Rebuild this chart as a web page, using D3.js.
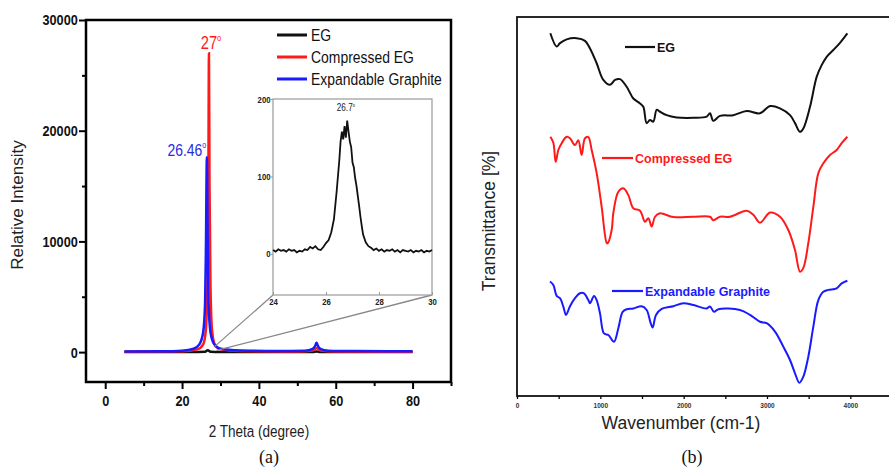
<!DOCTYPE html>
<html>
<head>
<meta charset="utf-8">
<script src="https://cdn.jsdelivr.net/npm/d3@7"></script>
<style>
  body { margin: 0; background: #fff; }
  svg { display: block; }
  .sans { font-family: "Liberation Sans", Arial, sans-serif; }
  .serif { font-family: "Liberation Serif", "Times New Roman", serif; }
</style>
</head>
<body>
<div id="chart"></div>
<script>
// ---- (a) XRD data: [2theta, intensity] ----
const xrdEG = [[5,10],[20,12],[24,15],[26,30],[26.7,170],[27.4,30],[30,12],[50,10],[54,12],[55,60],[56,12],[80,10]];
const xrdCompressed = [[5,40],[20,70],[24,250],[25.5,700],[26.2,2000],[26.6,6000],[26.85,15000],[27,27000],[27.15,15000],[27.4,6000],[27.8,2000],[28.5,700],[30,250],[35,100],[50,60],[54,150],[55,350],[56,150],[60,60],[80,40]];
const xrdExpandable = [[5,60],[15,70],[20,120],[23,300],[24.5,700],[25.5,1800],[26,4500],[26.2,9000],[26.46,17600],[26.7,9000],[26.9,4500],[27.4,1800],[28.4,700],[30,300],[35,150],[45,100],[52,130],[54,300],[54.7,600],[55,850],[55.3,600],[56,300],[58,130],[65,90],[80,70]];
// inset: EG around the (002) reflection
const insetEG = [[24.0,5],[24.1,3],[24.2,6],[24.3,4],[24.4,5],[24.5,3],[24.6,6],[24.7,4],[24.8,5],[24.9,2],[25.0,4],[25.1,3],[25.2,6],[25.3,5],[25.4,9],[25.5,7],[25.6,10],[25.7,6],[25.8,5],[25.9,9],[26.0,14],[26.1,18],[26.2,28],[26.3,45],[26.4,80],[26.5,120],[26.55,145],[26.6,158],[26.65,148],[26.7,165],[26.75,150],[26.8,172],[26.85,158],[26.9,145],[26.95,138],[27.0,118],[27.05,112],[27.1,98],[27.15,88],[27.2,75],[27.25,62],[27.3,48],[27.35,36],[27.4,25],[27.5,15],[27.6,10],[27.7,8],[27.8,5],[27.9,7],[28.0,4],[28.1,6],[28.2,3],[28.3,5],[28.4,4],[28.5,6],[28.6,3],[28.7,5],[28.8,2],[28.9,5],[29.0,4],[29.1,3],[29.2,5],[29.3,2],[29.4,4],[29.5,3],[29.6,5],[29.7,2],[29.8,4],[29.9,3],[30.0,5]];

// ---- (b) FTIR data: [wavenumber, transmittance (offset, a.u.)] ----
const ftirEG = [[400,95.7],[476,92.2],[516,93.1],[596,94.1],[716,94.4],[816,93.7],[876,91.7],[956,87.8],[1036,83.4],[1116,82.1],[1176,83.4],[1236,83.6],[1316,81.6],[1396,78.5],[1476,77.2],[1516,76.3],[1556,72.0],[1596,72.8],[1636,72.4],[1676,75.5],[1716,75.0],[1796,74.1],[1916,73.5],[2116,73.4],[2276,73.7],[2316,74.6],[2356,72.6],[2436,73.9],[2596,74.1],[2756,75.2],[2916,74.6],[3036,76.5],[3156,75.9],[3276,74.1],[3336,72.0],[3396,69.7],[3436,70.6],[3516,76.3],[3596,84.2],[3656,87.3],[3716,89.5],[3796,91.3],[3876,93.2],[3964,95.7]];
const ftirCompressed = [[400,68.4],[436,66.8],[464,61.8],[496,64.9],[536,66.7],[596,68.4],[636,68.0],[696,66.2],[736,67.5],[776,63.6],[816,68.0],[856,68.3],[896,64.9],[956,58.8],[1016,49.9],[1076,40.4],[1088,40.3],[1136,43.8],[1156,48.3],[1216,53.9],[1276,54.8],[1336,53.0],[1396,49.5],[1476,48.9],[1536,46.0],[1576,46.9],[1616,44.7],[1656,47.3],[1716,48.2],[1876,47.2],[2116,47.3],[2316,47.3],[2356,46.4],[2436,47.3],[2556,47.3],[2756,48.9],[2836,47.8],[2916,45.7],[3036,48.4],[3156,47.3],[3256,43.8],[3336,38.5],[3396,32.8],[3436,33.8],[3496,40.4],[3556,49.9],[3616,58.8],[3676,61.4],[3756,63.6],[3836,64.9],[3896,66.7],[3964,68.4]];
const ftirExpandable = [[396,30.2],[436,29.3],[476,26.4],[516,25.8],[556,23.6],[588,21.4],[636,23.7],[696,25.8],[756,27.1],[804,27.1],[856,25.3],[876,24.5],[924,26.4],[956,25.3],[996,21.8],[1044,16.5],[1096,16.1],[1164,14.3],[1216,17.9],[1268,22.2],[1316,22.9],[1396,23.1],[1496,23.7],[1556,22.7],[1604,19.2],[1628,18.1],[1668,21.4],[1736,23.0],[1876,23.7],[1996,24.5],[2116,24.0],[2276,23.1],[2316,23.6],[2364,22.2],[2416,22.9],[2676,22.7],[2796,21.4],[2916,19.6],[2996,19.2],[3096,17.0],[3196,13.0],[3276,9.5],[3336,6.0],[3388,3.5],[3436,5.1],[3496,10.4],[3556,18.3],[3616,25.3],[3676,27.5],[3736,28.0],[3836,28.4],[3896,29.7],[3964,30.4]];

const seriesNames = ['EG', 'Compressed EG', 'Expandable Graphite'];
const seriesColors = ['#111111', '#ff1a1a', '#1a1aff'];
const xrdTicksX = [0, 20, 40, 60, 80];
const xrdMinorX = [10, 30, 50, 70, 90];
const xrdTicksY = [0, 10000, 20000, 30000];
const xrdMinorY = [5000, 15000, 25000];
const insetTicksX = [24, 26, 28, 30];
const insetTicksY = [0, 100, 200];
const ftirTicksX = [0, 1000, 2000, 3000, 4000];
const ftirMinorX = [500, 1500, 2500, 3500];

const NARROW = 0.82; // the original uses a condensed face; squeeze a regular one
const W = 889, H = 467;
const svg = d3.select('#chart').append('svg').attr('width', W).attr('height', H);
svg.append('rect').attr('width', W).attr('height', H).attr('fill', '#fff');

// condensed text helper: text placed at (x,y), squeezed horizontally
const narrowText = (x, y, size, anchor = 'start') => svg.append('g')
  .attr('transform', `translate(${x},${y}) scale(${NARROW},1)`)
  .append('text').attr('class', 'sans').attr('font-size', size).attr('text-anchor', anchor);

// ================= panel (a) =================
const a = { left: 86, right: 451, top: 20, bottom: 382 };
const xA = d3.scaleLinear().domain([-5, 90]).range([a.left, a.right]);
const yA = d3.scaleLinear().domain([-2700, 30000]).range([a.bottom, a.top]);

const styleAxis = g => {
  g.select('.domain').remove();
  g.selectAll('.tick line').attr('stroke', '#000').attr('stroke-width', 2);
  g.selectAll('.tick text').attr('class', 'sans').attr('font-size', 15.5)
    .attr('font-weight', 'bold').attr('fill', '#111')
    .attr('transform', `scale(${NARROW},1)`);
};

svg.append('g').attr('transform', `translate(0,${a.bottom})`)
  .call(d3.axisBottom(xA).tickValues(xrdMinorX).tickSize(4).tickFormat(''))
  .call(styleAxis);
svg.append('g').attr('transform', `translate(0,${a.bottom})`)
  .call(d3.axisBottom(xA).tickValues(xrdTicksX).tickSize(7).tickPadding(6).tickFormat(d3.format('d')))
  .call(styleAxis);
svg.append('g').attr('transform', `translate(${a.left},0)`)
  .call(d3.axisLeft(yA).tickValues(xrdMinorY).tickSize(4).tickFormat(''))
  .call(styleAxis);
svg.append('g').attr('transform', `translate(${a.left},0)`)
  .call(d3.axisLeft(yA).tickValues(xrdTicksY).tickSize(7).tickPadding(3).tickFormat(d3.format('d')))
  .call(styleAxis);

svg.append('rect').attr('x', a.left).attr('y', a.top)
  .attr('width', a.right - a.left).attr('height', a.bottom - a.top)
  .attr('fill', 'none').attr('stroke', '#000').attr('stroke-width', 2.5);

const lineA = d3.line().x(d => xA(d[0])).y(d => yA(d[1])).curve(d3.curveMonotoneX);
[xrdEG, xrdCompressed, xrdExpandable].forEach((s, i) => {
  svg.append('path').datum(s).attr('d', lineA)
    .attr('fill', 'none').attr('stroke', seriesColors[i]).attr('stroke-width', 2.5);
});

// peak labels
const degLabel = (x, y, txt, color, size) => {
  const t = narrowText(x, y, size, 'middle').attr('fill', color);
  t.append('tspan').text(txt);
  t.append('tspan').attr('dy', -size * 0.45).attr('font-size', size * 0.5).text('o');
};
degLabel(xA(27) + 2, 49, '27', '#ff1a1a', 18);
degLabel(xA(26.46) - 20, 156, '26.46', '#2b2bdd', 17);

// legend (a)
seriesNames.forEach((n, i) => {
  const y = 35 + i * 22;
  svg.append('line').attr('x1', 277).attr('x2', 307).attr('y1', y).attr('y2', y)
    .attr('stroke', seriesColors[i]).attr('stroke-width', 3);
  narrowText(311, y + 6, 17).attr('fill', '#111').text(n);
});

// inset
const ins = { left: 273, right: 432, top: 99, bottom: 295 };
const xI = d3.scaleLinear().domain([24, 30]).range([ins.left, ins.right]);
const yI = d3.scaleLinear().domain([-53, 200]).range([ins.bottom, ins.top]);

// zoom guide lines
svg.append('line').attr('x1', ins.left).attr('y1', ins.bottom)
  .attr('x2', xA(28.3)).attr('y2', yA(450)).attr('stroke', '#888').attr('stroke-width', 1.3);
svg.append('line').attr('x1', ins.right).attr('y1', ins.bottom)
  .attr('x2', xA(29)).attr('y2', yA(150)).attr('stroke', '#888').attr('stroke-width', 1.3);

svg.append('rect').attr('x', ins.left).attr('y', ins.top)
  .attr('width', ins.right - ins.left).attr('height', ins.bottom - ins.top)
  .attr('fill', '#fff').attr('stroke', '#999').attr('stroke-width', 1.2);

const styleInset = g => {
  g.select('.domain').remove();
  g.selectAll('.tick line').attr('stroke', '#999');
  g.selectAll('.tick text').attr('class', 'sans').attr('font-size', 9.5)
    .attr('font-weight', 'bold').attr('fill', '#222')
    .attr('transform', `scale(${NARROW},1)`);
};
svg.append('g').attr('transform', `translate(0,${ins.bottom})`)
  .call(d3.axisBottom(xI).tickValues(insetTicksX).tickSize(-3).tickPadding(3).tickFormat(d3.format('d')))
  .call(styleInset);
svg.append('g').attr('transform', `translate(${ins.left},0)`)
  .call(d3.axisLeft(yI).tickValues(insetTicksY).tickSize(2).tickPadding(1).tickFormat(d3.format('d')))
  .call(styleInset);

const lineI = d3.line().x(d => xI(d[0])).y(d => yI(d[1]));
svg.append('path').datum(insetEG).attr('d', lineI)
  .attr('fill', 'none').attr('stroke', '#111').attr('stroke-width', 1.8);
const t267 = narrowText(xI(26.75), 111, 10, 'middle').attr('fill', '#222');
t267.append('tspan').text('26.7');
t267.append('tspan').attr('dy', -4).attr('font-size', 5).text('o');

narrowText(xA(40), 437, 16.5, 'middle').attr('fill', '#222').text('2 Theta (degree)');
svg.append('text').attr('class', 'sans')
  .attr('transform', `translate(23,${(a.top + a.bottom) / 2 + 4}) rotate(-90)`)
  .attr('text-anchor', 'middle').attr('font-size', 17).attr('fill', '#222').text('Relative Intensity');
svg.append('text').attr('class', 'serif').attr('x', 269).attr('y', 463)
  .attr('text-anchor', 'middle').attr('font-size', 18).attr('fill', '#111').text('(a)');

// ================= panel (b) =================
const b = { left: 517, right: 892, top: 17, bottom: 396 };
const xB = d3.scaleLinear().domain([0, 4500]).range([b.left, b.right]);
const yB = d3.scaleLinear().domain([0, 100]).range([b.bottom, b.top]);

const styleB = g => {
  g.select('.domain').remove();
  g.selectAll('.tick line').attr('stroke', '#000').attr('stroke-width', 1.3);
  g.selectAll('.tick text').attr('class', 'sans').attr('font-size', 6.5)
    .attr('font-weight', 'bold').attr('fill', '#333');
};
svg.append('g').attr('transform', `translate(0,${b.bottom})`)
  .call(d3.axisBottom(xB).tickValues(ftirMinorX).tickSize(3).tickFormat(''))
  .call(styleB);
svg.append('g').attr('transform', `translate(0,${b.bottom})`)
  .call(d3.axisBottom(xB).tickValues(ftirTicksX).tickSize(3).tickPadding(4).tickFormat(d3.format('d')))
  .call(styleB);

svg.append('rect').attr('x', b.left).attr('y', b.top)
  .attr('width', b.right - b.left).attr('height', b.bottom - b.top)
  .attr('fill', 'none').attr('stroke', '#111').attr('stroke-width', 1.8);

const lineB = d3.line().x(d => xB(d[0])).y(d => yB(d[1])).curve(d3.curveCatmullRom.alpha(0.5));
[ftirEG, ftirCompressed, ftirExpandable].forEach((s, i) => {
  svg.append('path').datum(s).attr('d', lineB)
    .attr('fill', 'none').attr('stroke', seriesColors[i]).attr('stroke-width', 2);
});

// inline legend labels (b)
const legB = [
  { x1: 625, x2: 655, y: 47 },
  { x1: 602, x2: 633, y: 158 },
  { x1: 612, x2: 643, y: 291 }
];
legB.forEach((p, i) => {
  svg.append('line').attr('x1', p.x1).attr('x2', p.x2).attr('y1', p.y).attr('y2', p.y)
    .attr('stroke', seriesColors[i]).attr('stroke-width', 2.2);
  svg.append('text').attr('class', 'sans').attr('x', p.x2 + 2).attr('y', p.y + 4.5)
    .attr('font-size', 12.5).attr('font-weight', 'bold')
    .attr('fill', i === 0 ? '#111' : seriesColors[i]).text(seriesNames[i]);
});

svg.append('text').attr('class', 'sans').attr('x', 681).attr('y', 429)
  .attr('text-anchor', 'middle').attr('font-size', 17.5).attr('fill', '#222').text('Wavenumber (cm-1)');
svg.append('text').attr('class', 'sans')
  .attr('transform', 'translate(495,221) rotate(-90)')
  .attr('text-anchor', 'middle').attr('font-size', 17.5).attr('fill', '#222').text('Transmittance [%]');
svg.append('text').attr('class', 'serif').attr('x', 692).attr('y', 463)
  .attr('text-anchor', 'middle').attr('font-size', 18).attr('fill', '#111').text('(b)');
</script>
</body>
</html>
